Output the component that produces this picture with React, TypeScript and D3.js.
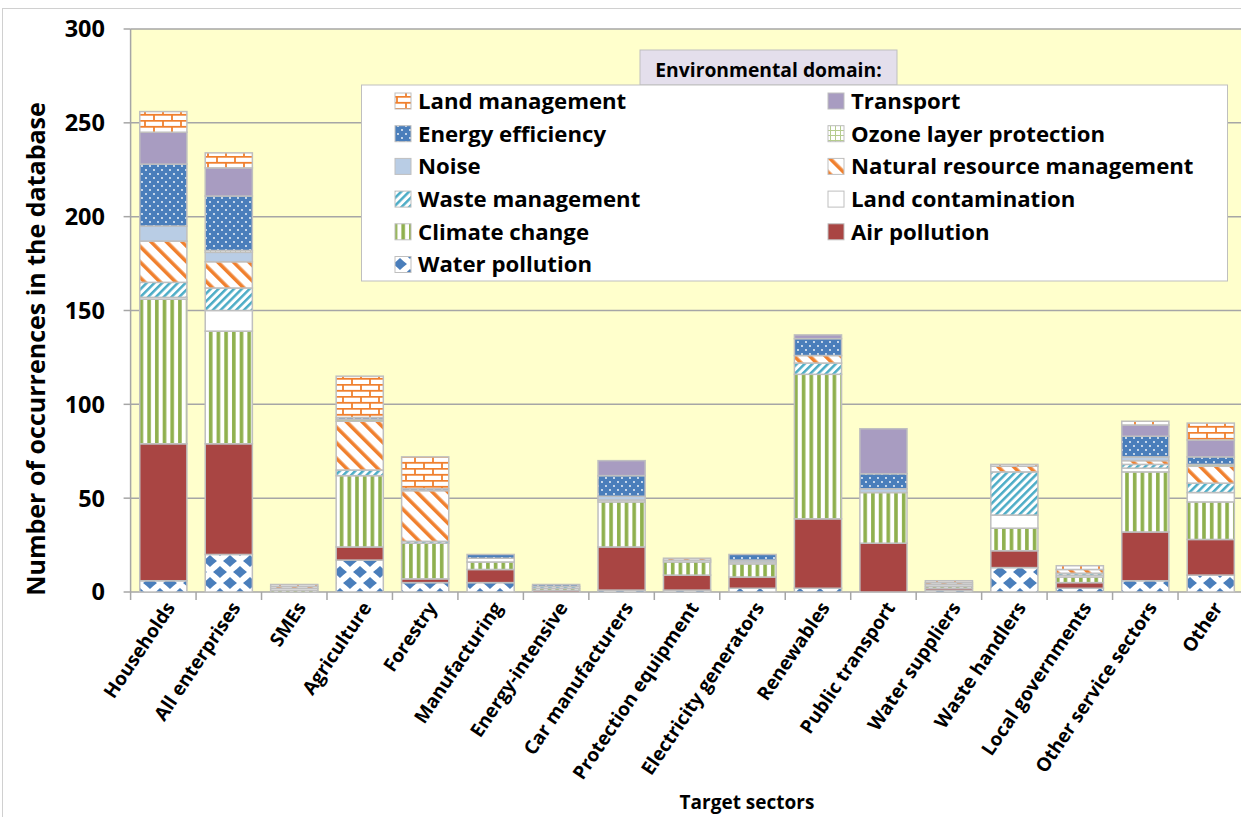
import React from "react";
import * as d3 from "d3";

const categories = [
  "Households", "All enterprises", "SMEs", "Agriculture", "Forestry", "Manufacturing",
  "Energy-intensive", "Car manufacturers", "Protection equipment", "Electricity generators",
  "Renewables", "Public transport", "Water suppliers", "Waste handlers", "Local governments",
  "Other service sectors", "Other",
];

const waterPollution = [6, 20, 0, 17, 5, 5, 0, 1, 1, 2, 2, 0, 1, 13, 2, 6, 9];
const airPollution = [73, 59, 0, 7, 2, 7, 1, 23, 8, 6, 37, 26, 1, 9, 3, 26, 19];
const climateChange = [77, 60, 1, 38, 19, 4, 1, 24, 7, 7, 77, 27, 1, 12, 3, 32, 20];
const landContamination = [1, 11, 1, 0, 0, 2, 0, 1, 1, 1, 0, 0, 1, 7, 1, 2, 5];
const wasteManagement = [8, 12, 0, 3, 1, 0, 1, 0, 0, 0, 6, 0, 0, 23, 1, 2, 5];
const naturalResource = [22, 14, 1, 26, 27, 0, 0, 0, 1, 0, 4, 0, 1, 3, 2, 2, 9];
const noise = [8, 5, 0, 0, 0, 0, 0, 2, 0, 1, 0, 2, 0, 0, 0, 2, 0];
const ozoneLayer = [0, 1, 0, 1, 0, 0, 0, 0, 0, 0, 0, 0, 0, 0, 0, 0, 1];
const energyEfficiency = [33, 29, 0, 1, 1, 2, 1, 11, 0, 3, 9, 8, 0, 0, 0, 11, 4];
const transport = [17, 15, 0, 0, 0, 0, 0, 8, 0, 0, 2, 24, 0, 0, 0, 6, 9];
const landManagement = [11, 8, 1, 22, 17, 0, 0, 0, 0, 0, 0, 0, 1, 1, 2, 2, 9];

const yTicks = [0, 50, 100, 150, 200, 250, 300];

// series, bottom to top
const seriesNames = [
  "Water pollution", "Air pollution", "Climate change", "Land contamination",
  "Waste management", "Natural resource management", "Noise", "Ozone layer protection",
  "Energy efficiency", "Transport", "Land management",
];
const seriesValues = [
  waterPollution, airPollution, climateChange, landContamination, wasteManagement,
  naturalResource, noise, ozoneLayer, energyEfficiency, transport, landManagement,
];
const seriesFill = [
  "url(#pWater)", "#A94543", "url(#pClimate)", "#FFFFFF", "url(#pWaste)",
  "url(#pNatRes)", "#B9CDE5", "url(#pOzone)", "url(#pEnergy)", "#A89CC1", "url(#pBrick)",
];
// legend layout (row-major, two columns)
const legendOrder = [
  "Land management", "Transport", "Energy efficiency", "Ozone layer protection",
  "Noise", "Natural resource management", "Waste management", "Land contamination",
  "Climate change", "Air pollution", "Water pollution",
];

const FONT = "'Open Sans', 'Liberation Sans', sans-serif";
const W = 1241, H = 817;

export default function App() {
  const x0 = 130.6, x1 = 1243.5, yTop = 29, yBot = 592;
  const x = d3.scaleBand<string>().domain(categories).range([x0, x1]).paddingInner(0.28).paddingOuter(0.14);
  const y = d3.scaleLinear().domain([0, 300]).range([yBot, yTop]);

  const table = categories.map((c, i) => {
    const row: any = { cat: c };
    seriesNames.forEach((s, k) => (row[s] = seriesValues[k][i]));
    return row;
  });
  const stacked = d3.stack<any>().keys(seriesNames)(table);
  const step = x.step();
  const bounds = d3.range(categories.length + 1).map((i) => x0 + i * step);

  const orange = "#F0802E";
  const blue = "#4A7EBB";
  const green = "#8FB04E";
  const teal = "#4BACC6";

  return (
    <svg width={W} height={H} style={{ position: "absolute", left: 0, top: 0, background: "#fff" }}>
      <defs>
        <pattern id="pBrick" patternUnits="userSpaceOnUse" width="18" height="12">
          <rect width="18" height="12" fill="#fff" />
          <line x1="0" y1="0.8" x2="18" y2="0.8" stroke={orange} strokeWidth="1.8" />
          <line x1="0" y1="6.8" x2="18" y2="6.8" stroke={orange} strokeWidth="1.8" />
          <line x1="1" y1="0" x2="1" y2="6.8" stroke={orange} strokeWidth="1.8" />
          <line x1="10" y1="6.8" x2="10" y2="12" stroke={orange} strokeWidth="1.8" />
        </pattern>
        <pattern id="pEnergy" patternUnits="userSpaceOnUse" width="8" height="8">
          <rect width="8" height="8" fill={blue} />
          <circle cx="2" cy="2" r="0.9" fill="#fff" />
          <circle cx="6" cy="6" r="0.9" fill="#fff" />
        </pattern>
        <pattern id="pOzone" patternUnits="userSpaceOnUse" width="5" height="5">
          <rect width="5" height="5" fill="#fff" />
          <path d="M0 0.5 H5 M0.5 0 V5" stroke="#B5CC8E" strokeWidth="1" />
        </pattern>
        <pattern id="pNatRes" patternUnits="userSpaceOnUse" width="11" height="11" patternTransform="rotate(-45)">
          <rect width="11" height="11" fill="#fff" />
          <rect x="0" y="0" width="3.6" height="11" fill={orange} />
        </pattern>
        <pattern id="pWaste" patternUnits="userSpaceOnUse" width="5.5" height="5.5" patternTransform="rotate(45)">
          <rect width="5.5" height="5.5" fill="#fff" />
          <rect x="0" y="0" width="2.5" height="5.5" fill={teal} />
        </pattern>
        <pattern id="pClimate" patternUnits="userSpaceOnUse" width="7.7" height="10">
          <rect width="7.7" height="10" fill="#fff" />
          <rect x="1" y="0" width="3.6" height="10" fill={green} />
        </pattern>
        <pattern id="pWater" patternUnits="userSpaceOnUse" width="20" height="22">
          <rect width="20" height="22" fill="#fff" />
          <path d="M10 5 Q13 8 17 11 Q13 14 10 17 Q7 14 3 11 Q7 8 10 5Z" fill={blue} />
          <path d="M0 -6 Q3 -3 7 0 Q3 3 0 6 Q-3 3 -7 0 Q-3 -3 0 -6Z" fill={blue} />
          <path d="M20 -6 Q23 -3 27 0 Q23 3 20 6 Q17 3 13 0 Q17 -3 20 -6Z" fill={blue} />
          <path d="M0 16 Q3 19 7 22 Q3 25 0 28 Q-3 25 -7 22 Q-3 19 0 16Z" fill={blue} />
          <path d="M20 16 Q23 19 27 22 Q23 25 20 28 Q17 25 13 22 Q17 19 20 16Z" fill={blue} />
        </pattern>
      </defs>

      {/* chart area border */}
      <rect x={2.5} y={8.5} width={W + 10} height={H + 10} fill="#fff" stroke="#D0D0D0" strokeWidth={1} />

      {/* plot area */}
      <rect x={x0} y={yTop} width={x1 - x0} height={yBot - yTop} fill="#FFFFCC" />
      {yTicks.map((t) => (
        <line key={t} x1={x0} x2={x1} y1={y(t)} y2={y(t)} stroke="#A6A6A6" strokeWidth={1.5} />
      ))}
      <line x1={x0} x2={x0} y1={yTop} y2={yBot} stroke="#A6A6A6" strokeWidth={1.5} />
      {yTicks.map((t) => (
        <g key={"yt" + t}>
          <line x1={x0 - 7} x2={x0} y1={y(t)} y2={y(t)} stroke="#A6A6A6" strokeWidth={1.5} />
          <text x={105} y={y(t)} dy="0.36em" textAnchor="end" fontFamily={FONT} fontWeight="bold" fontSize={23.5} fill="#000">
            {t}
          </text>
        </g>
      ))}
      {bounds.map((b, i) => (
        <line key={"xt" + i} x1={b} x2={b} y1={yBot} y2={yBot + 8} stroke="#A6A6A6" strokeWidth={1.5} />
      ))}

      {/* bars */}
      {stacked.map((layer, k) => (
        <g key={layer.key} fill={seriesFill[k]}>
          {layer.map((d, i) => {
            const h = y(d[0]) - y(d[1]);
            if (h <= 0) return null;
            return (
              <rect key={i} x={x(categories[i])} y={y(d[1])} width={x.bandwidth()} height={h}
                stroke="#BFBFBF" strokeWidth={1.5} />
            );
          })}
        </g>
      ))}

      {/* category labels */}
      {categories.map((c) => {
        const cx = (x(c) as number) + x.bandwidth() / 2;
        return (
          <text key={c} transform={`translate(${cx + 7},${yBot + 12}) rotate(-56)`} textAnchor="end"
            dy="0.35em" fontFamily={FONT} fontWeight="bold" fontSize={19} fill="#000">
            {c}
          </text>
        );
      })}

      {/* axis titles */}
      <text transform={`translate(36,${349}) rotate(-90)`} textAnchor="middle"
        fontFamily={FONT} fontWeight="bold" fontSize={25} fill="#000" dy="0.35em">
        Number of occurrences in the database
      </text>
      <text x={747} y={802} textAnchor="middle" dy="0.35em" fontFamily={FONT} fontWeight="bold" fontSize={19} fill="#000">
        Target sectors
      </text>

      {/* legend */}
      <rect x={640} y={50} width={257} height={35} fill="#E4DFEC" stroke="#BFBFBF" strokeWidth={1} />
      <text x={768.5} y={70} textAnchor="middle" dy="0.35em" fontFamily={FONT} fontWeight="bold" fontSize={19.3} fill="#000">
        Environmental domain:
      </text>
      <rect x={361.5} y={85} width={866} height={196} fill="#fff" stroke="#BFBFBF" strokeWidth={1} />
      {legendOrder.map((name, j) => {
        const col = j % 2, row = Math.floor(j / 2);
        const sx = col === 0 ? 395 : 828;
        const cy = 101 + row * 32.7;
        const k = seriesNames.indexOf(name);
        return (
          <g key={name}>
            <rect x={sx} y={cy - 8} width={16} height={16} fill={seriesFill[k]} stroke="#BFBFBF" strokeWidth={1} />
            <text x={sx + 23} y={cy} dy="0.36em" fontFamily={FONT} fontWeight="bold" fontSize={22.2} fill="#000">
              {name}
            </text>
          </g>
        );
      })}
    </svg>
  );
}
